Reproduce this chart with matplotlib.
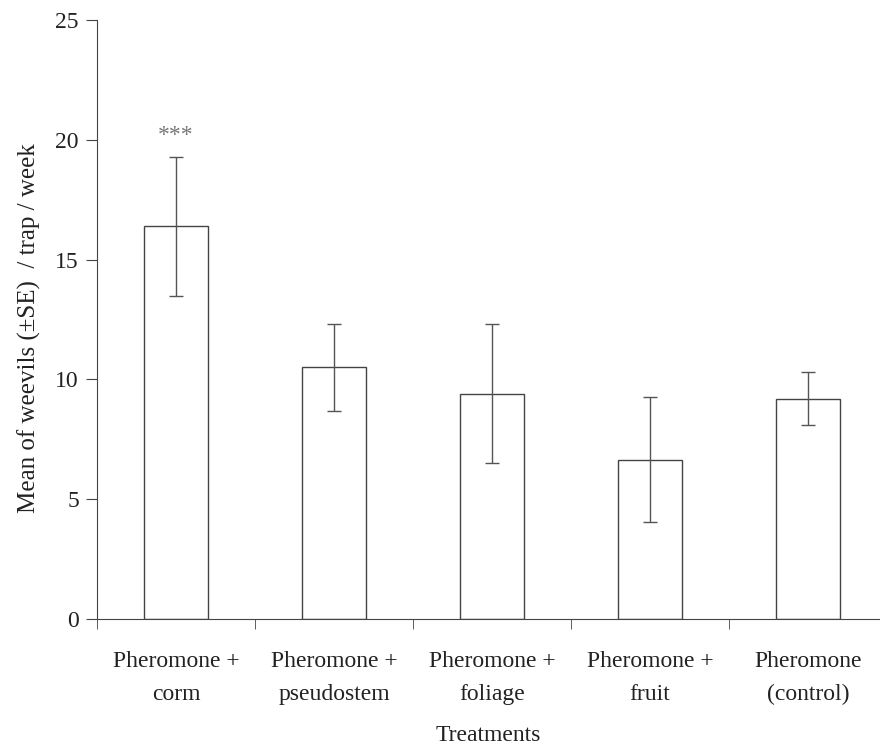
import numpy as np
import matplotlib.pyplot as plt

# values
treatments = ["Pheromone +\ncorm", "Pheromone +\npseudostem", "Pheromone +\nfoliage",
              "Pheromone +\nfruit", "Pheromone\n(control)"]
means = [16.4, 10.5, 9.4, 6.65, 9.2]
se = [2.9, 1.8, 2.9, 2.6, 1.1]
signif = ["***", "", "", "", ""]

plt.rcParams["font.family"] = ["Liberation Serif", "DejaVu Serif"]

fig = plt.figure(figsize=(8.8, 7.53), dpi=100)
ax = fig.add_axes([97 / 880, 134 / 753, 783 / 880, 599 / 753])

x = np.arange(len(treatments))
ax.bar(x, means, width=0.405, color="white", edgecolor="#444444", linewidth=1.0)
ax.errorbar(x, means, yerr=se, fmt="none", ecolor="#555555", elinewidth=1.0,
            capsize=5, capthick=1.0)

for xi, m, s, lab in zip(x, means, se, signif):
    if lab:
        ax.text(xi, m + s + 0.45, lab, ha="center", va="bottom", fontsize=17, color="#777777")

ax.set_xlim(-0.5, 4.456)
ax.set_ylim(0, 25)
ax.set_yticks(np.arange(0, 26, 5))
ax.set_xticks(x)
ax.set_xticklabels(treatments, fontsize=17, color="#222222", linespacing=1.75)
ax.set_xticks(np.arange(-0.5, 4.5, 1), minor=True)
ax.tick_params(axis="x", which="major", length=0, pad=23)
ax.tick_params(axis="x", which="minor", length=7, direction="out", color="#444444")
ax.tick_params(axis="y", length=8, direction="out", labelsize=17, color="#444444",
               labelcolor="#222222", pad=5)

for side in ["top", "right"]:
    ax.spines[side].set_visible(False)
for side in ["left", "bottom"]:
    ax.spines[side].set_color("#444444")

ax.set_ylabel("Mean of weevils (\u00b1SE)  / trap / week", fontsize=18, color="#222222")
ax.set_xlabel("Treatments", fontsize=17, color="#222222", labelpad=14)
ax.yaxis.set_label_coords(-0.072, 0.485)

fig.savefig("out.png", dpi=100, facecolor="white")
